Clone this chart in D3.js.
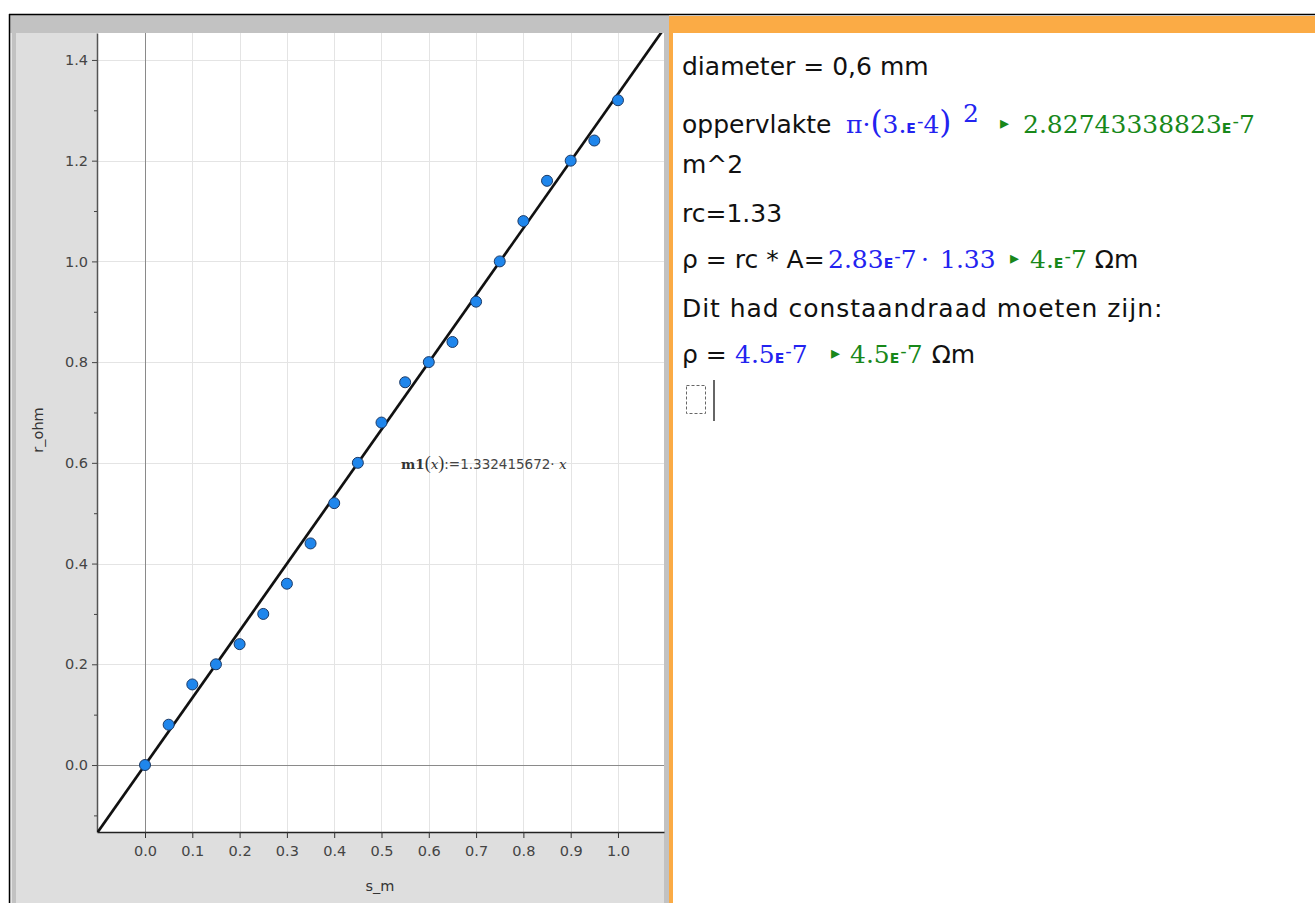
<!DOCTYPE html>
<html>
<head>
<meta charset="utf-8">
<script src="https://cdn.jsdelivr.net/npm/d3@7"></script>
<style>
  html, body { margin: 0; padding: 0; background: #fff; }
  svg { display: block; }
</style>
</head>
<body>
<svg id="chart" width="1315" height="903"></svg>
<script>
// ---------------- data ----------------
const sValues = [0.00, 0.05, 0.10, 0.15, 0.20, 0.25, 0.30, 0.35, 0.40, 0.45, 0.50,
                 0.55, 0.60, 0.65, 0.70, 0.75, 0.80, 0.85, 0.90, 0.95, 1.00];
const rValues = [0.00, 0.08, 0.16, 0.20, 0.24, 0.30, 0.36, 0.44, 0.52, 0.60, 0.68,
                 0.76, 0.80, 0.84, 0.92, 1.00, 1.08, 1.16, 1.20, 1.24, 1.32];
const slope = 1.332415672;
const xTickValues = [0.0, 0.1, 0.2, 0.3, 0.4, 0.5, 0.6, 0.7, 0.8, 0.9, 1.0];
const yTickValues = [0.0, 0.2, 0.4, 0.6, 0.8, 1.0, 1.2, 1.4];
const yMinorTickValues = [-0.1, 0.1, 0.3, 0.5, 0.7, 0.9, 1.1, 1.3];
const xLabel = "s_m";
const yLabel = "r_ohm";
const fitLabel = { name: "m1", arg: "x", coef: "1.332415672" };

// Notes panel text (segments with a style key)
const noteTexts = [
  [ ["diameter = 0,6 mm", "sans"] ],
  [ ["oppervlakte ", "sans"], ["π·", "mb"], ["(", "mbBig"], ["3.", "mb"], ["E", "eb"], ["-", "supb"], ["4", "mb"],
    [")", "mbBig"], ["2", "sup"], ["▸", "tri"], ["2.82743338823", "mg"], ["E", "eg"], ["-", "supg"], ["7", "mg"] ],
  [ ["m^2", "sans"] ],
  [ ["rc=1.33", "sans"] ],
  [ ["ρ = rc * A=", "sans"], ["2.83", "mb"], ["E", "eb"], ["-", "supb"], ["7", "mb"], ["·", "mb"], ["1.33", "mb"],
    ["▸", "tri"], ["4.", "mg"], ["E", "eg"], ["-", "supg"], ["7", "mg"], [" Ωm", "sans"] ],
  [ ["Dit had constaandraad moeten zijn:", "sansWide"] ],
  [ ["ρ = ", "sans"], ["4.5", "mb"], ["E", "eb"], ["-", "supb"], ["7", "mb"], ["▸", "tri"],
    ["4.5", "mg"], ["E", "eg"], ["-", "supg"], ["7", "mg"], ["Ωm", "sans"] ]
];

// ---------------- layout ----------------
const svg = d3.select("#chart");
const W = 1315, H = 903;
const plot = { left: 97, right: 664, top: 33, bottom: 832 };
const BLUE = "#2323f0", GREEN = "#18881a", ORANGE = "#fbab45";

// baselines of the note lines, and fixed x anchors for some segments (line index -> seg index -> x)
const noteBaselines = [75, 133, 173, 222, 268, 317, 363];
const noteAnchors = {
  1: { 1: 846, 8: 963, 9: 1000, 10: 1023 },
  4: { 1: 828, 5: 921, 6: 940, 7: 1010, 8: 1030 },
  6: { 1: 735, 5: 831, 6: 850 }
};
const noteGapAfter = { 6: { 9: 9 } };

svg.append("rect").attr("width", W).attr("height", H).attr("fill", "#fff");

// left panel frame
svg.append("rect").attr("x", 10).attr("y", 15).attr("width", 659).attr("height", H - 15).attr("fill", "#c2c2c2");
svg.append("rect").attr("x", 10).attr("y", 33).attr("width", 2).attr("height", H - 33).attr("fill", "#e4e4e4");
svg.append("rect").attr("x", 16).attr("y", 33).attr("width", 648).attr("height", H - 33).attr("fill", "#dedede");

// right panel frame
svg.append("rect").attr("x", 669).attr("y", 16).attr("width", W - 669).attr("height", 17).attr("fill", ORANGE);
svg.append("rect").attr("x", 669).attr("y", 16).attr("width", 4).attr("height", H - 16).attr("fill", ORANGE);

// outer black lines
svg.append("line").attr("x1", 9).attr("x2", W).attr("y1", 14.5).attr("y2", 14.5).attr("stroke", "#000").attr("stroke-width", 1.5);
svg.append("line").attr("x1", 9.5).attr("x2", 9.5).attr("y1", 14).attr("y2", H).attr("stroke", "#000").attr("stroke-width", 1.5);

// ---------------- plot ----------------
const x = d3.scaleLinear().domain([-0.1015, 1.0973]).range([plot.left, plot.right]);
const y = d3.scaleLinear().domain([-0.133, 1.4535]).range([plot.bottom, plot.top]);

svg.append("rect").attr("x", plot.left).attr("y", plot.top)
  .attr("width", plot.right - plot.left).attr("height", plot.bottom - plot.top).attr("fill", "#fff");

svg.append("clipPath").attr("id", "plotclip").append("rect")
  .attr("x", plot.left).attr("y", plot.top)
  .attr("width", plot.right - plot.left).attr("height", plot.bottom - plot.top);

const grid = svg.append("g").attr("clip-path", "url(#plotclip)");
grid.selectAll("line.vg").data(xTickValues.filter(d => d !== 0)).join("line")
  .attr("x1", d => Math.round(x(d)) + 0.5).attr("x2", d => Math.round(x(d)) + 0.5)
  .attr("y1", plot.top).attr("y2", plot.bottom)
  .attr("stroke", "#e4e4e4").attr("stroke-width", 1);
grid.selectAll("line.hg").data(yTickValues.filter(d => d !== 0)).join("line")
  .attr("y1", d => Math.round(y(d)) + 0.5).attr("y2", d => Math.round(y(d)) + 0.5)
  .attr("x1", plot.left).attr("x2", plot.right)
  .attr("stroke", "#e4e4e4").attr("stroke-width", 1);
// zero lines
grid.append("line").attr("x1", Math.round(x(0)) + 0.5).attr("x2", Math.round(x(0)) + 0.5)
  .attr("y1", plot.top).attr("y2", plot.bottom).attr("stroke", "#8a8a8a").attr("stroke-width", 1);
grid.append("line").attr("y1", Math.round(y(0)) + 0.5).attr("y2", Math.round(y(0)) + 0.5)
  .attr("x1", plot.left).attr("x2", plot.right).attr("stroke", "#8a8a8a").attr("stroke-width", 1);

// axes
const axisFont = "'DejaVu Sans', sans-serif";
const xAxis = d3.axisBottom(x).tickValues(xTickValues).tickFormat(d3.format(".1f")).tickSize(6).tickSizeOuter(0);
const gx = svg.append("g").attr("transform", `translate(0,${plot.bottom})`).call(xAxis);
gx.select(".domain").attr("stroke", "#222").attr("stroke-width", 1.5);
gx.selectAll(".tick line").attr("stroke", "#333");
gx.selectAll(".tick text").attr("font-family", axisFont).attr("font-size", 14.5).attr("fill", "#444").attr("dy", "1.05em");

const yAxis = d3.axisLeft(y).tickValues(yTickValues).tickFormat(d3.format(".1f")).tickSize(5).tickSizeOuter(0);
const gy = svg.append("g").attr("transform", `translate(${plot.left},0)`).call(yAxis);
gy.select(".domain").attr("stroke", "#555").attr("stroke-width", 1.5);
gy.selectAll(".tick line").attr("stroke", "#444");
gy.selectAll(".tick text").attr("font-family", axisFont).attr("font-size", 14.5).attr("fill", "#444").attr("x", -9);

const yMinor = d3.axisLeft(y).tickValues(yMinorTickValues).tickFormat("").tickSize(3).tickSizeOuter(0);
const gym = svg.append("g").attr("transform", `translate(${plot.left},0)`).call(yMinor);
gym.select(".domain").remove();
gym.selectAll(".tick line").attr("stroke", "#444");

// axis titles
svg.append("text").attr("x", (plot.left + plot.right) / 2 - 0.5).attr("y", 891)
  .attr("text-anchor", "middle").attr("font-family", axisFont).attr("font-size", 14.5).attr("fill", "#333").text(xLabel);
svg.append("text").attr("transform", `translate(43,430) rotate(-90)`)
  .attr("text-anchor", "middle").attr("font-family", axisFont).attr("font-size", 14.5).attr("fill", "#333").text(yLabel);

// regression line
const lineGen = d3.line().x(d => x(d)).y(d => y(slope * d));
svg.append("path").attr("clip-path", "url(#plotclip)")
  .datum(x.domain())
  .attr("d", lineGen)
  .attr("fill", "none").attr("stroke", "#111").attr("stroke-width", 2.7);

// data points
svg.append("g").selectAll("circle").data(sValues.map((s, i) => [s, rValues[i]])).join("circle")
  .attr("cx", d => x(d[0])).attr("cy", d => y(d[1])).attr("r", 5.5)
  .attr("fill", "#1f86ec").attr("stroke", "#1c3a66").attr("stroke-width", 1);

// fit label
const fl = svg.append("text").attr("x", 401).attr("y", 469)
  .attr("font-family", "'DejaVu Serif', serif").attr("font-size", 13.5).attr("fill", "#333");
fl.append("tspan").attr("font-weight", "bold").text(fitLabel.name);
fl.append("tspan").attr("font-size", 18).attr("font-family", "'Liberation Serif', serif").text("(");
fl.append("tspan").attr("font-style", "italic").text(fitLabel.arg);
fl.append("tspan").attr("font-size", 18).attr("font-family", "'Liberation Serif', serif").text(")");
fl.append("tspan").attr("font-family", "'DejaVu Sans', sans-serif").attr("fill", "#444").text(":=" + fitLabel.coef + "·");
fl.append("tspan").attr("font-style", "italic").text(" " + fitLabel.arg);

// ---------------- notes panel ----------------
const styles = {
  sans:     { f: "'DejaVu Sans', sans-serif", z: 25, c: "#111", w: "normal" },
  sansWide: { f: "'DejaVu Sans', sans-serif", z: 25, c: "#111", w: "normal", ls: 0.95 },
  mb:       { f: "'DejaVu Serif', serif", z: 25, c: BLUE, w: "normal" },
  mbBig:    { f: "'DejaVu Serif', serif", z: 31, c: BLUE, w: "normal" },
  sup:      { f: "'DejaVu Serif', serif", z: 25, c: BLUE, w: "normal", dy: -11 },
  mg:       { f: "'DejaVu Serif', serif", z: 25, c: GREEN, w: "normal" },
  eb:       { f: "'DejaVu Sans', sans-serif", z: 14, c: BLUE, w: "bold", gap: 1 },
  eg:       { f: "'DejaVu Sans', sans-serif", z: 14, c: GREEN, w: "bold", gap: 1 },
  supb:     { f: "'DejaVu Sans', sans-serif", z: 18, c: BLUE, w: "normal", dy: -6 },
  supg:     { f: "'DejaVu Sans', sans-serif", z: 18, c: GREEN, w: "normal", dy: -6 },
  tri:      { f: "'DejaVu Sans', sans-serif", z: 18, c: GREEN, w: "normal", dy: -4 }
};
const notes = svg.append("g");
noteTexts.forEach((segs, li) => {
  let cx = 682;
  const anchors = noteAnchors[li] || {};
  const gaps = noteGapAfter[li] || {};
  segs.forEach(([txt, sk], si) => {
    const st = styles[sk];
    if (anchors[si] !== undefined) cx = anchors[si];
    const t = notes.append("text")
      .attr("x", cx).attr("y", noteBaselines[li] + (st.dy || 0))
      .attr("font-family", st.f).attr("font-size", st.z).attr("font-weight", st.w)
      .attr("letter-spacing", st.ls || 0)
      .attr("fill", st.c).style("white-space", "pre")
      .text(txt);
    cx += t.node().getComputedTextLength() + (st.gap || 0) + (gaps[si] || 0);
  });
});

// input cursor
notes.append("rect").attr("x", 686.5).attr("y", 385.5).attr("width", 19).attr("height", 28)
  .attr("fill", "none").attr("stroke", "#666").attr("stroke-width", 1).attr("stroke-dasharray", "3,2");
notes.append("line").attr("x1", 714).attr("x2", 714).attr("y1", 380).attr("y2", 421)
  .attr("stroke", "#333").attr("stroke-width", 1.5);
</script>
</body>
</html>
